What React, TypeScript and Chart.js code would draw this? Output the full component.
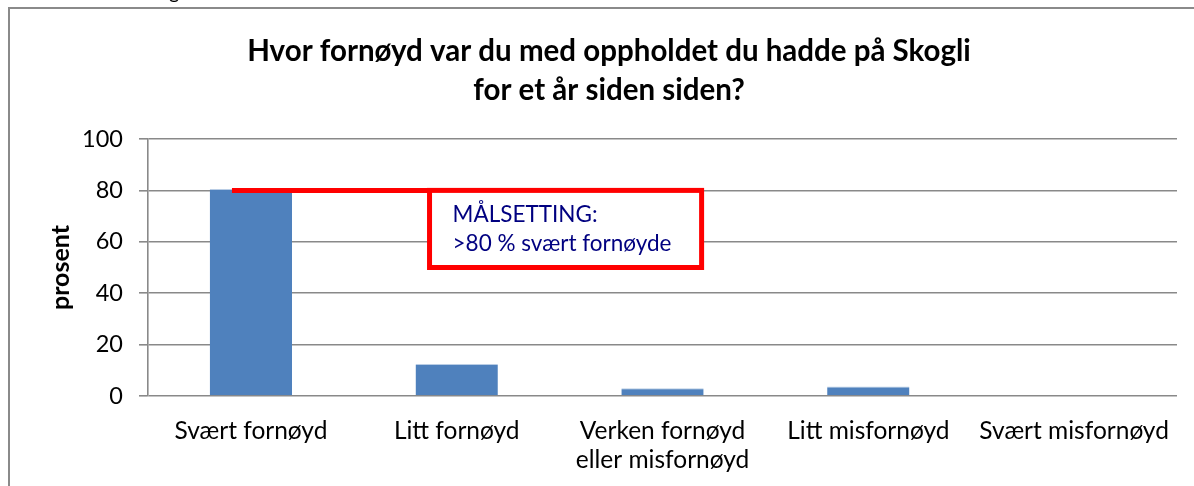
import React, { useEffect, useRef } from "react";
import { Chart, registerables } from "chart.js";

Chart.register(...registerables);

const categories: (string | string[])[] = [
  "Svært fornøyd",
  "Litt fornøyd",
  ["Verken fornøyd", "eller misfornøyd"],
  "Litt misfornøyd",
  "Svært misfornøyd",
];
const percentValues = [80.5, 12.5, 3, 3.7, 0];
const yTickValues = [0, 20, 40, 60, 80, 100];
const titleLines = [
  "Hvor fornøyd var du med oppholdet du hadde på Skogli",
  "for et år siden siden?",
];
const goalValue = 80;
const goalBoxLow = 50;
const goalLines = ["MÅLSETTING:", ">80 % svært fornøyde"];

const FONT = "Lato, 'Open Sans', sans-serif";

const overlayPlugin = {
  id: "overlay",
  afterDraw(chart: any) {
    const ctx = chart.ctx;
    const x = chart.scales.x;
    const y = chart.scales.y;
    ctx.save();
    // title
    ctx.fillStyle = "#000";
    ctx.font = `bold 29.5px ${FONT}`;
    ctx.textAlign = "center";
    ctx.textBaseline = "middle";
    ctx.fillText(titleLines[0], 609, 51);
    ctx.fillText(titleLines[1], 609, 90);
    // cut-off caption fragment at top
    ctx.textAlign = "left";
    ctx.textBaseline = "alphabetic";
    ctx.font = `20px ${FONT}`;
    ctx.fillText("g", 169, -1);

    // goal annotation
    const yGoal = y.getPixelForValue(goalValue);
    const yLow = y.getPixelForValue(goalBoxLow);
    const xStart = x.getPixelForValue(-0.092);
    const xBoxL = x.getPixelForValue(0.868);
    const xBoxR = x.getPixelForValue(2.19);
    ctx.strokeStyle = "#ff0000";
    ctx.lineWidth = 5;
    ctx.beginPath();
    ctx.moveTo(xStart, yGoal);
    ctx.lineTo(xBoxL, yGoal);
    ctx.stroke();
    ctx.fillStyle = "#ffffff";
    ctx.fillRect(xBoxL, yGoal, xBoxR - xBoxL, yLow - yGoal);
    ctx.strokeRect(xBoxL, yGoal, xBoxR - xBoxL, yLow - yGoal);
    ctx.fillStyle = "#000080";
    ctx.font = `22.5px ${FONT}`;
    ctx.textBaseline = "middle";
    ctx.fillText(goalLines[0], xBoxL + 23, yGoal + 24);
    ctx.fillText(goalLines[1], xBoxL + 23, yGoal + 53);
    ctx.restore();
  },
};

export default function App() {
  const ref = useRef<HTMLCanvasElement>(null);
  useEffect(() => {
    if (!ref.current) return;
    const chart = new Chart(ref.current, {
      type: "bar",
      data: {
        labels: categories,
        datasets: [
          {
            data: percentValues,
            backgroundColor: "#4F81BD",
            borderColor: "#B9CDE5",
            borderWidth: { top: 1, left: 0, right: 0, bottom: 0 },
            barPercentage: 0.4,
            categoryPercentage: 1,
          },
        ],
      },
      options: {
        animation: false,
        responsive: false,
        maintainAspectRatio: false,
        layout: { padding: { left: 0, top: 139, right: 17, bottom: 0 } },
        plugins: {
          legend: { display: false },
          tooltip: { enabled: false },
          title: { display: false },
        },
        scales: {
          x: {
            offset: true,
            grid: { display: false, drawTicks: false },
            border: { display: false },
            ticks: {
              color: "#000",
              font: { family: FONT, size: 24.5, lineHeight: 1.18 },
              padding: 21,
              maxRotation: 0,
              autoSkip: false,
            },
            afterFit(scale: any) {
              scale.height = 90;
            },
          },
          y: {
            min: 0,
            max: 100,
            afterBuildTicks(scale: any) {
              scale.ticks = yTickValues.map((v) => ({ value: v }));
            },
            grid: {
              color: "#898989",
              lineWidth: 1.6,
              drawTicks: true,
              tickLength: 9,
            },
            border: { display: true, color: "#898989", width: 1.6 },
            ticks: {
              color: "#000",
              font: { family: FONT, size: 23.5 },
              padding: 16,
            },
            title: {
              display: true,
              text: "prosent",
              color: "#000",
              font: { family: FONT, size: 25, weight: "bold", lineHeight: 1.2 },
              padding: { top: 46, bottom: 0 },
            },
            afterFit(scale: any) {
              scale.width = 148;
            },
          },
        },
      },
      plugins: [overlayPlugin],
    });
    return () => chart.destroy();
  }, []);

  return (
    <div
      style={{
        position: "fixed",
        left: 0,
        top: 0,
        width: 1194,
        height: 486,
        overflow: "hidden",
        background: "#fff",
      }}
    >
      <div
        style={{
          position: "absolute",
          left: 8,
          top: 7,
          width: 1300,
          height: 600,
          borderLeft: "2px solid #8a8a8a",
          borderTop: "2px solid #8a8a8a",
        }}
      />
      <canvas
        ref={ref}
        width={1194}
        height={486}
        style={{ position: "absolute", left: 0, top: 0, width: 1194, height: 486 }}
      />
    </div>
  );
}
